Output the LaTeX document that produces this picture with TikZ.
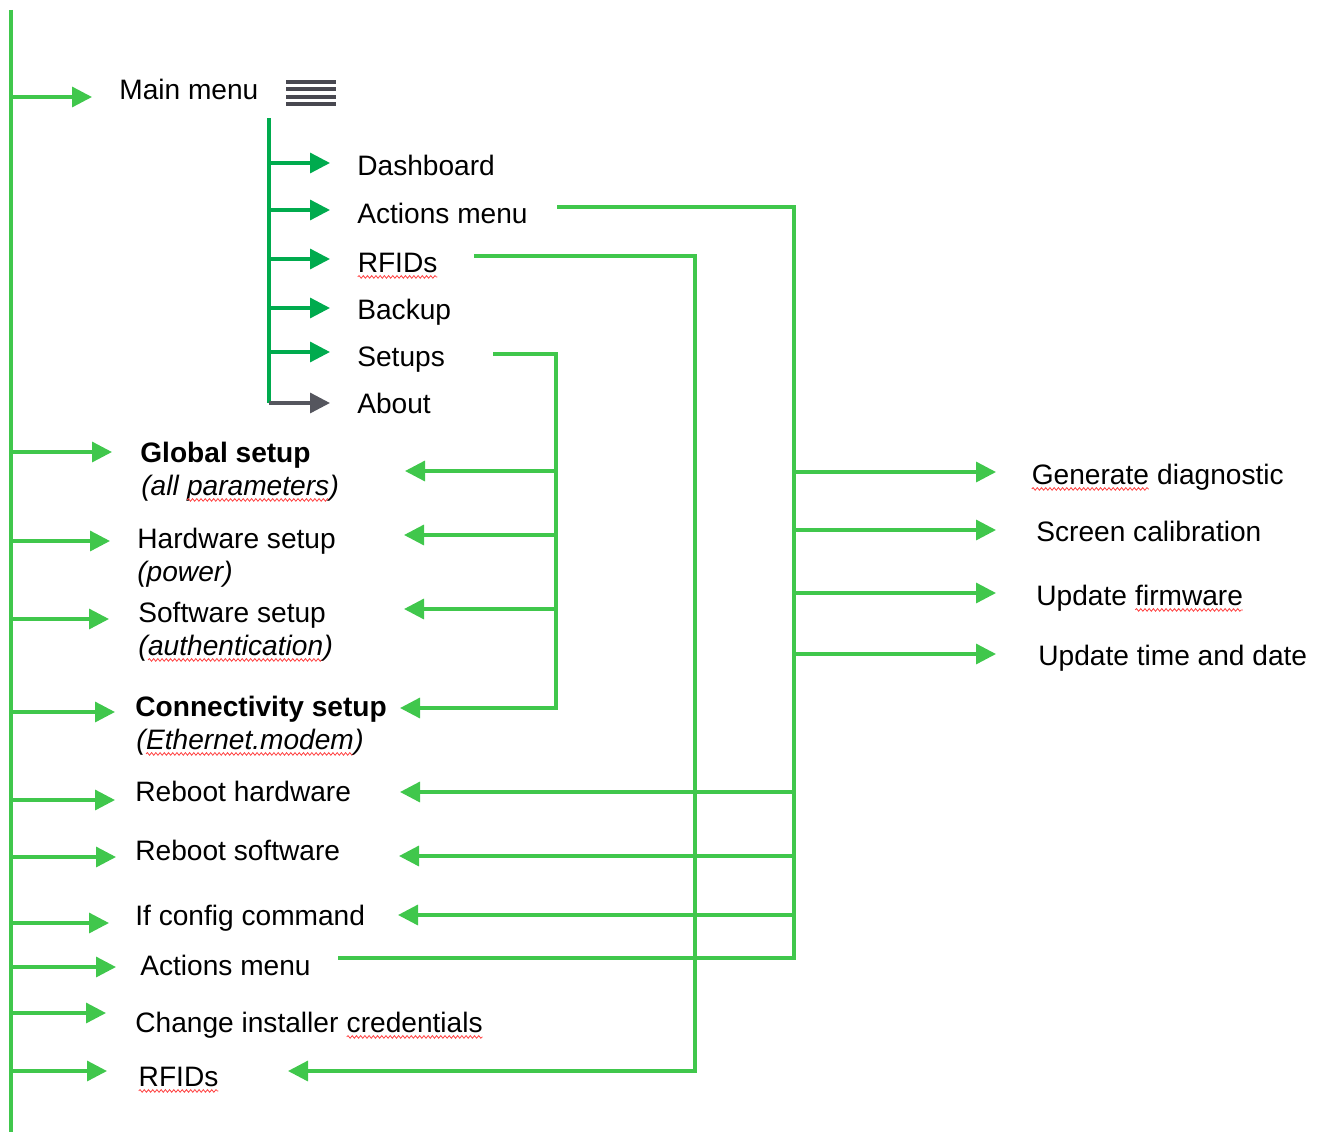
\documentclass[tikz,border=0pt]{standalone}
\usepackage{fontspec}
\setmainfont{Liberation Sans}
\usetikzlibrary{arrows.meta,positioning,calc,decorations.pathmorphing}

\definecolor{menuGreen}{RGB}{64,199,76}
\definecolor{subGreen}{RGB}{0,171,78}
\definecolor{aboutGray}{RGB}{85,86,94}
\definecolor{iconGray}{RGB}{72,72,80}

% red spell-check squiggle under a word
\newcommand{\spell}[1]{\tikz[baseline=(sp.base)]{\node[inner sep=0pt,outer sep=0pt,anchor=base] (sp) {#1};
  \draw[red!75,line width=0.45pt,decorate,decoration={snake,amplitude=0.75pt,segment length=2.4pt}]
    ([yshift=-2.8pt]sp.base west) -- ([yshift=-2.8pt]sp.base east);}}

\begin{document}
\begin{tikzpicture}
		[x=0.02cm, y=-0.02cm, font=\fontsize{16}{19}\selectfont,
		% STYLES
		% a plain menu entry
		entry/.style={anchor=base west, inner sep=0pt, text=black},
		% bold entries
		entryBold/.style={entry, font=\fontsize{16}{19}\selectfont\bfseries},
		% the italic remark below a setup entry
		remark/.style={entry, font=\fontsize{16}{19}\selectfont\itshape},
		% green bus lines
		bus/.style={draw=menuGreen, line width=1.9pt},
		feed/.style={bus, -{Triangle[length=0.4cm,width=0.4cm]}},
		% the darker submenu arrows
		subBus/.style={draw=subGreen, line width=1.9pt},
		subFeed/.style={subBus, -{Triangle[length=0.4cm,width=0.4cm]}},
		aboutFeed/.style={draw=aboutGray, line width=1.9pt, -{Triangle[length=0.4cm,width=0.4cm]}},
		burger/.style={draw=iconGray, line width=1.9pt}]

		\useasboundingbox (0,0) rectangle (1327,1132);

		% Main menu and its submenu
		\node [entry] (mainMenu) at (119,99) {Main menu};
		\foreach \yy in {82,89,97,104}
			\draw[burger] (286,\yy) -- (336,\yy);

		\node [entry] (dashboard) at (357,175) {Dashboard};
		\node [entry] (actionsTop) at (357,223) {Actions menu};
		\node [entry] (rfidsTop) at (357,272) {\spell{RFIDs}};
		\node [entry] (backup) at (357,319) {Backup};
		\node [entry] (setups) at (357,366) {Setups};
		\node [entry] (about) at (357,413) {About};

		% Setup pages
		\node [entryBold] (globalSetup) at (140,462) {Global setup};
		\node [remark] (globalNote) at (141,495) {(all \spell{parameters})};
		\node [entry] (hardwareSetup) at (137,548) {Hardware setup};
		\node [remark] (hardwareNote) at (137,581) {(power)};
		\node [entry] (softwareSetup) at (138,622) {Software setup};
		\node [remark] (softwareNote) at (138,655) {(\spell{authentication})};
		\node [entryBold] (connSetup) at (135,716) {Connectivity setup};
		\node [remark] (connNote) at (136,749) {(\spell{Ethernet.modem})};

		% Actions and the rest
		\node [entry] (rebootHw) at (135,801) {Reboot hardware};
		\node [entry] (rebootSw) at (135,860) {Reboot software};
		\node [entry] (ifConfig) at (135,925) {If config command};
		\node [entry] (actionsBot) at (140,975) {Actions menu};
		\node [entry] (changeCred) at (135,1032) {Change installer \spell{credentials}};
		\node [entry] (rfidsBot) at (138,1086) {\spell{RFIDs}};

		\node [entry] (genDiag) at (1031,484) {\spell{Generate} diagnostic};
		\node [entry] (screenCal) at (1036,541) {Screen calibration};
		\node [entry] (updFw) at (1036,605) {Update \spell{firmware}};
		\node [entry] (updTime) at (1038,665) {Update time and date};

		%%%%%%%%%%%%%%%
		% Arrow ends
		\coordinate (leftTop) at (11,10);
		\coordinate (leftBot) at (11,1132);
		\coordinate (toMain) at (92,97);
		\coordinate (toGlobal) at (112,452);
		\coordinate (toHardware) at (110,541);
		\coordinate (toSoftware) at (109,619);
		\coordinate (toConn) at (115,712);
		\coordinate (toRebootHw) at (115,800);
		\coordinate (toRebootSw) at (116,857);
		\coordinate (toIfConfig) at (109,923);
		\coordinate (toActions) at (116,967);
		\coordinate (toChange) at (106,1013);
		\coordinate (toRfids) at (107,1071);

		\coordinate (subTop) at (269,118);
		\coordinate (subBot) at (269,403);
		\coordinate (toDash) at (330,163);
		\coordinate (toActMenu) at (330,210);
		\coordinate (toRfidMenu) at (330,259);
		\coordinate (toBackup) at (330,308);
		\coordinate (toSetups) at (330,352);
		\coordinate (toAbout) at (330,403);

		\coordinate (setupsOut) at (493,354);
		\coordinate (setupsBus) at (556,708);
		\coordinate (setGlobal) at (405,471);
		\coordinate (setHardware) at (404,535);
		\coordinate (setSoftware) at (404,609);
		\coordinate (setConn) at (400,708);

		\coordinate (actionsOut) at (557,207);
		\coordinate (actionsBus) at (794,958);
		\coordinate (actionsIn) at (338,958);
		\coordinate (actGen) at (996,472);
		\coordinate (actScreen) at (996,530);
		\coordinate (actFw) at (996,593);
		\coordinate (actTime) at (996,654);
		\coordinate (actRebootHw) at (400,792);
		\coordinate (actRebootSw) at (399,856);
		\coordinate (actIfConfig) at (398,915);

		\coordinate (rfidsOut) at (474,256);
		\coordinate (rfidsBus) at (695,1071);
		\coordinate (rfidsIn) at (288,1071);

		%%%%%%%%%%%%%%%%
		% Draw the links
		\draw[bus] (leftTop) -- (leftBot);
		\foreach \t in {toMain,toGlobal,toHardware,toSoftware,toConn,toRebootHw,toRebootSw,toIfConfig,toActions,toChange,toRfids}
			\draw[feed] (\t -| leftTop) -- (\t);

		\draw[subBus] (subTop) -- (subBot);
		\foreach \t in {toDash,toActMenu,toRfidMenu,toBackup,toSetups}
			\draw[subFeed] (\t -| subTop) -- (\t);
		\draw[aboutFeed] (toAbout -| subTop) -- (toAbout);

		% Setups
		\draw[feed] (setupsOut) -| (setupsBus) -- (setConn);
		\foreach \t in {setGlobal,setHardware,setSoftware}
			\draw[feed] (\t -| setupsBus) -- (\t);

		% Actions menu
		\draw[bus] (actionsOut) -| (actionsBus) -- (actionsIn);
		\foreach \t in {actGen,actScreen,actFw,actTime,actRebootHw,actRebootSw,actIfConfig}
			\draw[feed] (\t -| actionsBus) -- (\t);

		% RFIDs
		\draw[feed] (rfidsOut) -| (rfidsBus) -- (rfidsIn);
\end{tikzpicture}
\end{document}
